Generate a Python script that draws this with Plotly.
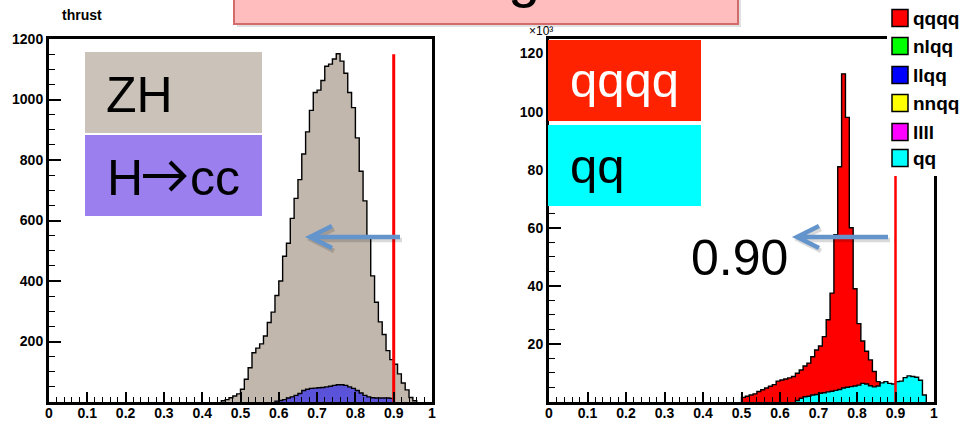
import plotly.graph_objects as go

W, H = 966, 422

# ---------------- data ----------------
bin_width = 0.01

zh_start = 0.45
zh_counts = [4, 8, 14, 20, 27, 42, 75, 113, 163, 178, 192, 218, 263, 297, 352,
             400, 482, 525, 607, 673, 735, 820, 893, 964, 1023, 1031, 1063, 1110,
             1117, 1134, 1151, 1127, 1087, 1023, 973, 873, 763, 665, 545, 417, 330,
             265, 223, 170, 140, 125, 93, 63, 40, 15, 4]

hcc_start = 0.59
hcc_counts = [3, 5, 8, 13, 17, 22, 28, 38, 42, 45, 46, 47, 48, 50, 52, 55, 57,
              57, 55, 50, 45, 38, 30, 22, 17, 14, 13, 13, 13, 13, 12]

qqqq_start = 0.50
qqqq_counts = [1.6, 2.0, 2.4, 2.8, 3.6, 4.2, 4.8, 5.4, 6.0, 7.2, 7.6, 7.9, 8.3,
               8.8, 9.9, 11.0, 12.4, 13.4, 15.6, 17.9, 19.3, 22.5, 28.3, 37.5,
               57.6, 81, 113, 98, 60, 39, 27, 21, 17.5, 14.5, 10.5, 7, 5, 3]

qq_start = 0.64
qq_counts = [0.5, 1.3, 1.8, 2.0, 2.4, 2.6, 3.0, 3.2, 3.5, 3.7, 4.0, 4.3, 4.8, 5.1,
             5.3, 5.5, 5.8, 6.4, 6.2, 5.6, 5.2, 5.5, 6.6, 7.0, 6.4, 6.2, 7.0, 7.2,
             8.4, 9.0, 8.8, 8.5, 7.5, 2.4]

cut_value = 0.90
cut_top_left = 1150
cut_top_right = 125

x_tick_vals = [0, 0.1, 0.2, 0.3, 0.4, 0.5, 0.6, 0.7, 0.8, 0.9, 1.0]
x_tick_text = ["0", "0.1", "0.2", "0.3", "0.4", "0.5", "0.6", "0.7", "0.8", "0.9", "1"]
left_y_ticks = [200, 400, 600, 800, 1000, 1200]
right_y_ticks = [20, 40, 60, 80, 100, 120]

legend_labels = ["qqqq", "nlqq", "llqq", "nnqq", "llll", "qq"]
legend_colors = ["#ff0000", "#00ff00", "#0000ff", "#ffff00", "#ff00ff", "#00ffff"]

title_text = "Thrust angle cuts"

# ---------------- helpers ----------------
def px(x):
    return x / W

def py(y):
    return 1 - y / H

def step_xy(start, counts):
    n = len(counts)
    edges = [round(start + bin_width * i, 4) for i in range(n + 1)]
    xs = [edges[0]] + edges[:n] + [edges[n]]
    ys = [0] + list(counts) + [0]
    return xs, ys

def hist_trace(start, counts, fill, xa, ya):
    xs, ys = step_xy(start, counts)
    return go.Scatter(x=xs, y=ys, mode="lines", xaxis=xa, yaxis=ya,
                      line=dict(shape="hv", color="black", width=1.4),
                      fill="tozeroy", fillcolor=fill, hoverinfo="skip")

fig = go.Figure()
fig.add_trace(hist_trace(zh_start, zh_counts, "#c1b7ac", "x", "y"))
fig.add_trace(hist_trace(hcc_start, hcc_counts, "#5a52d8", "x", "y"))
fig.add_trace(go.Scatter(x=[cut_value, cut_value], y=[0, cut_top_left], mode="lines",
                         line=dict(color="#ff0000", width=3), xaxis="x", yaxis="y"))

fig.add_trace(hist_trace(qqqq_start, qqqq_counts, "#ff0000", "x2", "y2"))
fig.add_trace(hist_trace(qq_start, qq_counts, "#00ffff", "x2", "y2"))
fig.add_trace(go.Scatter(x=[cut_value, cut_value], y=[0, cut_top_right], mode="lines",
                         line=dict(color="#ff0000", width=2.5), xaxis="x2", yaxis="y2"))

tickfont = dict(family="Liberation Sans", size=14, color="black", weight="bold")
axis_common = dict(showline=True, linewidth=3, linecolor="black", mirror=True,
                   showgrid=False, zeroline=False, ticks="inside", tickcolor="black",
                   tickwidth=1.5, tickfont=tickfont, automargin=False, fixedrange=True)

xdict = dict(axis_common, range=[0, 1], tickmode="array", tickvals=x_tick_vals,
             ticktext=x_tick_text, ticklen=10, ticklabelstandoff=-4,
             minor=dict(tickmode="linear", tick0=0, dtick=0.02, ticks="inside",
                        ticklen=5, tickcolor="black", tickwidth=1.2))
ydom = [py(402), py(39)]

fig.update_layout(
    width=W, height=H, margin=dict(l=0, r=0, t=0, b=0),
    paper_bgcolor="white", plot_bgcolor="white", showlegend=False,
    xaxis=dict(xdict, domain=[px(49), px(432)], anchor="y"),
    yaxis=dict(axis_common, domain=ydom, range=[0, 1200], anchor="x",
               tickmode="array", tickvals=left_y_ticks, ticklen=12,
               minor=dict(tickmode="linear", tick0=0, dtick=50, ticks="inside",
                          ticklen=6, tickcolor="black", tickwidth=1.2)),
    xaxis2=dict(xdict, domain=[px(549), px(934)], anchor="y2"),
    yaxis2=dict(axis_common, domain=ydom, range=[0, 125], anchor="x2",
                tickmode="array", tickvals=right_y_ticks, ticklen=12,
                minor=dict(tickmode="linear", tick0=0, dtick=5, ticks="inside",
                           ticklen=6, tickcolor="black", tickwidth=1.2)),
)

shapes = []
annots = []

def rect(x0, y0, x1, y1, fill, line_color=None, lw=0):
    shapes.append(dict(type="rect", xref="paper", yref="paper",
                       x0=px(x0), x1=px(x1), y0=py(y1), y1=py(y0),
                       fillcolor=fill, layer="above",
                       line=dict(color=line_color or fill, width=lw)))

def text(x, y, s, size, color="black", xanchor="left", yanchor="middle", bold=False,
         family="Liberation Sans"):
    annots.append(dict(xref="paper", yref="paper", x=px(x), y=py(y), text=s,
                       showarrow=False, xanchor=xanchor, yanchor=yanchor,
                       font=dict(family=family, size=size, color=color,
                                 weight="bold" if bold else "normal")))

def path(d, color, width):
    shapes.append(dict(type="path", xref="paper", yref="paper", path=d,
                       layer="above", line=dict(color=color, width=width)))

# title box (clipped at top)
rect(237, -60, 741, 27, "rgba(0,0,0,0.12)")
rect(234, -60, 738, 24, "#ffbdbd", "#d46b6b", 2)
text(485, 10, title_text, 58, xanchor="center", yanchor="bottom")

# left labels
rect(85, 52, 262, 133, "#cbc3b9")
rect(85, 135, 262, 216, "#9b7fee")
text(104, 95, "ZH", 50)
text(105, 178, "H", 50)
text(188, 178, "cc", 50)
path(f"M {px(143)},{py(176)} L {px(183)},{py(176)} "
     f"M {px(170)},{py(162)} L {px(184)},{py(176)} L {px(170)},{py(190)}",
     "black", 4)

# right labels
rect(548, 40, 701, 121, "#ff2200")
rect(548, 125, 701, 206, "#00ffff")
text(568, 80, "qqqq", 49, color="white")
text(568, 166, "qq", 49)
text(689, 258, "0.90", 50)

# arrows
def arrow(x_tail, x_tip, y, color="#6394cc"):
    for dx, dy, col in [(2, 3, "rgba(0,0,0,0.15)"), (0, 0, color)]:
        d = (f"M {px(x_tail+dx)},{py(y+dy)} L {px(x_tip+dx)},{py(y+dy)} "
             f"M {px(x_tip+22+dx)},{py(y-11+dy)} L {px(x_tip+dx)},{py(y+dy)} "
             f"L {px(x_tip+22+dx)},{py(y+11+dy)}")
        path(d, col, 4.5)

arrow(400, 310, 237)
arrow(888, 797, 237)

# legend (white background covers the frame corner)
rect(887, 0, 966, 176, "white")
leg_y = [18, 46, 75, 103, 132, 158]
for lab, col, yc in zip(legend_labels, legend_colors, leg_y):
    rect(892, yc - 8.5, 908, yc + 8.5, col, "black", 1.5)
    text(911, yc, lab, 19, bold=True)

# axis annotations
text(82, 15, "thrust", 14, xanchor="center", bold=True)
text(541, 31, "\u00d710\u00b3", 12, xanchor="center")

fig.update_layout(shapes=shapes, annotations=annots)
fig.write_html("out.html")
